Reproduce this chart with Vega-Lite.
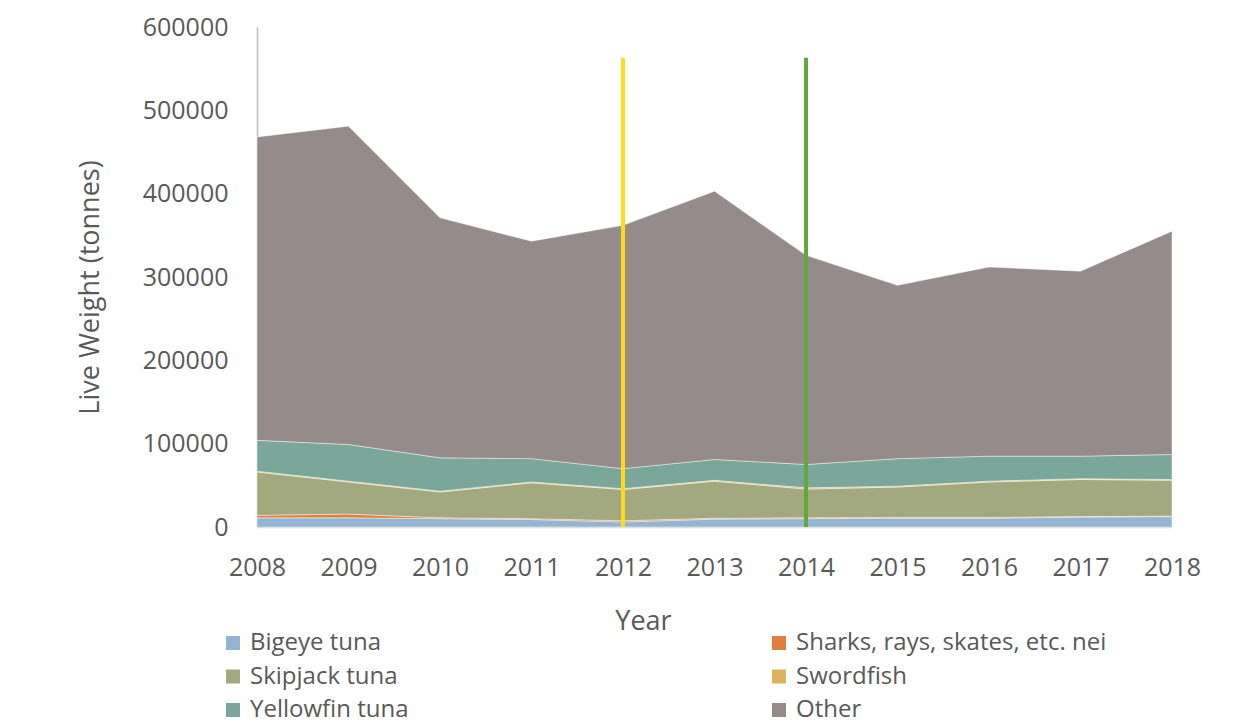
{
  "$schema": "https://vega.github.io/schema/vega-lite/v6.json",
  "width": 915,
  "height": 500,
  "autosize": {"type": "none"},
  "padding": {"left": 257, "top": 27, "right": 85, "bottom": 197},
  "background": "white",
  "config": {
    "view": {"stroke": null},
    "font": "Open Sans",
    "axis": {"labelColor": "#595959", "titleColor": "#595959", "labelFont": "Open Sans", "titleFont": "Open Sans", "titleFontWeight": "normal"}
  },
  "datasets": {
    "catch": [
      {"year": 2008, "species": "Bigeye tuna", "tonnes": 11000},
      {"year": 2009, "species": "Bigeye tuna", "tonnes": 11000},
      {"year": 2010, "species": "Bigeye tuna", "tonnes": 10000},
      {"year": 2011, "species": "Bigeye tuna", "tonnes": 9000},
      {"year": 2012, "species": "Bigeye tuna", "tonnes": 6000},
      {"year": 2013, "species": "Bigeye tuna", "tonnes": 9500},
      {"year": 2014, "species": "Bigeye tuna", "tonnes": 10000},
      {"year": 2015, "species": "Bigeye tuna", "tonnes": 10500},
      {"year": 2016, "species": "Bigeye tuna", "tonnes": 10500},
      {"year": 2017, "species": "Bigeye tuna", "tonnes": 12000},
      {"year": 2018, "species": "Bigeye tuna", "tonnes": 12500},
      {"year": 2008, "species": "Sharks, rays, skates, etc. nei", "tonnes": 3000},
      {"year": 2009, "species": "Sharks, rays, skates, etc. nei", "tonnes": 4500},
      {"year": 2010, "species": "Sharks, rays, skates, etc. nei", "tonnes": 1000},
      {"year": 2011, "species": "Sharks, rays, skates, etc. nei", "tonnes": 1000},
      {"year": 2012, "species": "Sharks, rays, skates, etc. nei", "tonnes": 1500},
      {"year": 2013, "species": "Sharks, rays, skates, etc. nei", "tonnes": 1000},
      {"year": 2014, "species": "Sharks, rays, skates, etc. nei", "tonnes": 1000},
      {"year": 2015, "species": "Sharks, rays, skates, etc. nei", "tonnes": 1000},
      {"year": 2016, "species": "Sharks, rays, skates, etc. nei", "tonnes": 1000},
      {"year": 2017, "species": "Sharks, rays, skates, etc. nei", "tonnes": 500},
      {"year": 2018, "species": "Sharks, rays, skates, etc. nei", "tonnes": 500},
      {"year": 2008, "species": "Skipjack tuna", "tonnes": 52000},
      {"year": 2009, "species": "Skipjack tuna", "tonnes": 38500},
      {"year": 2010, "species": "Skipjack tuna", "tonnes": 31000},
      {"year": 2011, "species": "Skipjack tuna", "tonnes": 43000},
      {"year": 2012, "species": "Skipjack tuna", "tonnes": 37500},
      {"year": 2013, "species": "Skipjack tuna", "tonnes": 44500},
      {"year": 2014, "species": "Skipjack tuna", "tonnes": 34500},
      {"year": 2015, "species": "Skipjack tuna", "tonnes": 36500},
      {"year": 2016, "species": "Skipjack tuna", "tonnes": 42500},
      {"year": 2017, "species": "Skipjack tuna", "tonnes": 44500},
      {"year": 2018, "species": "Skipjack tuna", "tonnes": 43000},
      {"year": 2008, "species": "Swordfish", "tonnes": 1000},
      {"year": 2009, "species": "Swordfish", "tonnes": 1000},
      {"year": 2010, "species": "Swordfish", "tonnes": 1000},
      {"year": 2011, "species": "Swordfish", "tonnes": 1000},
      {"year": 2012, "species": "Swordfish", "tonnes": 1000},
      {"year": 2013, "species": "Swordfish", "tonnes": 1000},
      {"year": 2014, "species": "Swordfish", "tonnes": 1500},
      {"year": 2015, "species": "Swordfish", "tonnes": 1000},
      {"year": 2016, "species": "Swordfish", "tonnes": 1000},
      {"year": 2017, "species": "Swordfish", "tonnes": 1000},
      {"year": 2018, "species": "Swordfish", "tonnes": 1000},
      {"year": 2008, "species": "Yellowfin tuna", "tonnes": 37000},
      {"year": 2009, "species": "Yellowfin tuna", "tonnes": 44000},
      {"year": 2010, "species": "Yellowfin tuna", "tonnes": 40000},
      {"year": 2011, "species": "Yellowfin tuna", "tonnes": 28000},
      {"year": 2012, "species": "Yellowfin tuna", "tonnes": 24000},
      {"year": 2013, "species": "Yellowfin tuna", "tonnes": 25000},
      {"year": 2014, "species": "Yellowfin tuna", "tonnes": 28000},
      {"year": 2015, "species": "Yellowfin tuna", "tonnes": 33000},
      {"year": 2016, "species": "Yellowfin tuna", "tonnes": 30000},
      {"year": 2017, "species": "Yellowfin tuna", "tonnes": 27000},
      {"year": 2018, "species": "Yellowfin tuna", "tonnes": 30000},
      {"year": 2008, "species": "Other", "tonnes": 364000},
      {"year": 2009, "species": "Other", "tonnes": 382000},
      {"year": 2010, "species": "Other", "tonnes": 288000},
      {"year": 2011, "species": "Other", "tonnes": 261000},
      {"year": 2012, "species": "Other", "tonnes": 292000},
      {"year": 2013, "species": "Other", "tonnes": 322000},
      {"year": 2014, "species": "Other", "tonnes": 251000},
      {"year": 2015, "species": "Other", "tonnes": 208000},
      {"year": 2016, "species": "Other", "tonnes": 227000},
      {"year": 2017, "species": "Other", "tonnes": 222000},
      {"year": 2018, "species": "Other", "tonnes": 268000}
    ],
    "markers": [
      {"year": 2012, "top": 563000},
      {"year": 2014, "top": 563000}
    ]
  },
  "layer": [
    {
      "data": {"name": "catch"},
      "transform": [
        {"calculate": "indexof(['Bigeye tuna', 'Sharks, rays, skates, etc. nei', 'Skipjack tuna', 'Swordfish', 'Yellowfin tuna', 'Other'], datum.species)", "as": "stack_order"}
      ],
      "mark": {"type": "area", "stroke": "#ffffff", "strokeWidth": 0.8, "strokeOpacity": 0.55},
      "encoding": {
        "x": {
          "field": "year",
          "type": "ordinal",
          "scale": {"type": "point", "padding": 0},
          "axis": {
            "title": "Year",
            "titleFontSize": 27,
            "titleX": 386,
            "titleY": 94,
            "titleBaseline": "middle",
            "titleAlign": "center",
            "labelAngle": 0,
            "labelFontSize": 25,
            "labelPadding": 28,
            "ticks": false,
            "domainColor": "#D9D9D9",
            "domainWidth": 1.5,
            "grid": false
          }
        },
        "y": {
          "field": "tonnes",
          "type": "quantitative",
          "stack": "zero",
          "scale": {"domain": [0, 600000], "nice": false},
          "axis": {
            "title": "Live Weight (tonnes)",
            "titleFontSize": 27,
            "titleX": -167,
            "titleY": 260,
            "titleAngle": -90,
            "titleBaseline": "middle",
            "titleAlign": "center",
            "values": [0, 100000, 200000, 300000, 400000, 500000, 600000],
            "format": "d",
            "labelFontSize": 25,
            "labelPadding": 29,
            "ticks": false,
            "grid": false,
            "domainColor": "#BFBFBF",
            "domainWidth": 1.5
          }
        },
        "color": {
          "field": "species",
          "type": "nominal",
          "scale": {
            "domain": ["Bigeye tuna", "Skipjack tuna", "Yellowfin tuna", "Sharks, rays, skates, etc. nei", "Swordfish", "Other"],
            "range": ["#94B4D3", "#A3A97E", "#7BA69A", "#DF7E3D", "#DBB35D", "#958B8A"]
          },
          "legend": {
            "title": null,
            "orient": "none",
            "legendX": -36,
            "legendY": 604,
            "columns": 2,
            "columnPadding": 358,
            "rowPadding": 9.5,
            "symbolType": "square",
            "symbolSize": 196,
            "symbolStrokeWidth": 0,
            "symbolOpacity": 1,
            "labelFontSize": 24,
            "labelFont": "Open Sans",
            "labelColor": "#595959",
            "labelLimit": 600,
            "labelOffset": 5
          }
        },
        "order": {"field": "stack_order", "type": "quantitative"}
      }
    },
    {
      "data": {"name": "markers"},
      "transform": [{"filter": "datum.year == 2012"}],
      "mark": {"type": "rule", "color": "#FFDA1A", "strokeWidth": 4},
      "encoding": {
        "x": {"field": "year", "type": "ordinal"},
        "y": {"field": "top", "type": "quantitative"},
        "y2": {"datum": 0}
      }
    },
    {
      "data": {"name": "markers"},
      "transform": [{"filter": "datum.year == 2014"}],
      "mark": {"type": "rule", "color": "#62A83C", "strokeWidth": 4},
      "encoding": {
        "x": {"field": "year", "type": "ordinal"},
        "y": {"field": "top", "type": "quantitative"},
        "y2": {"datum": 0}
      }
    }
  ]
}
